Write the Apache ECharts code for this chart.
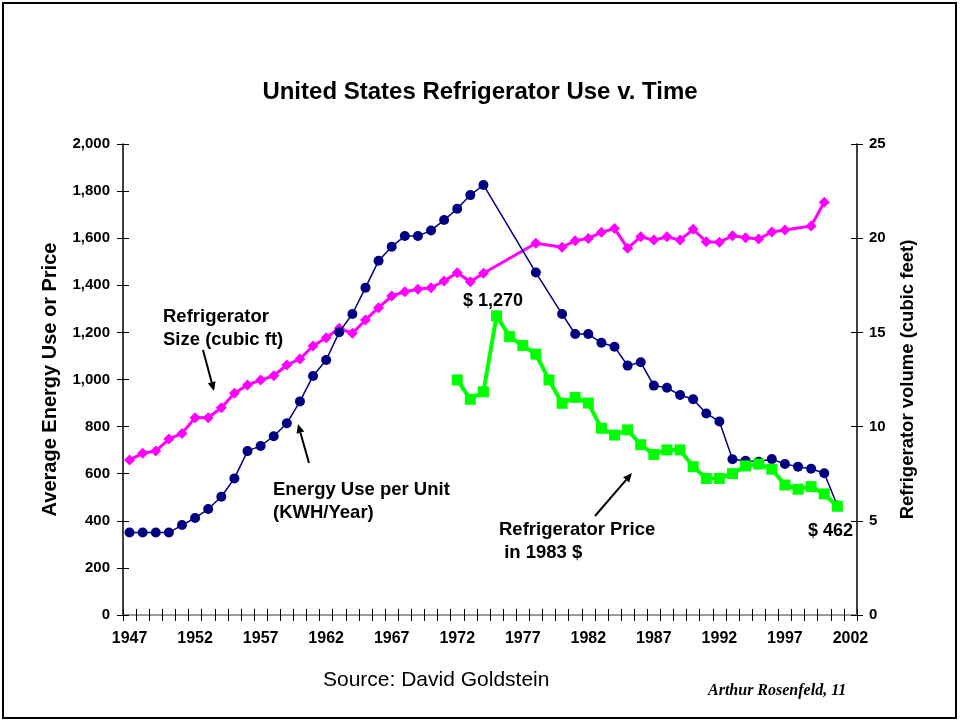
<!DOCTYPE html>
<html>
<head>
<meta charset="utf-8">
<title>United States Refrigerator Use v. Time</title>
<script src="https://cdn.jsdelivr.net/npm/echarts@6/dist/echarts.min.js"></script>
<style>
  html, body { margin: 0; padding: 0; background: #fff; }
  #main { width: 960px; height: 721px; }
</style>
</head>
<body>
<div id="main"></div>
<script>
// years on the category axis
const years = [
    "1947","1948","1949","1950","1951","1952","1953","1954","1955","1956",
    "1957","1958","1959","1960","1961","1962","1963","1964","1965","1966",
    "1967","1968","1969","1970","1971","1972","1973","1974","1975","1976",
    "1977","1978","1979","1980","1981","1982","1983","1984","1985","1986",
    "1987","1988","1989","1990","1991","1992","1993","1994","1995","1996",
    "1997","1998","1999","2000","2001","2002"
];

// Energy Use per Unit (KWH/Year), left axis
const energyUse = [
    350, 350, 350, 350, 382, 412, 450, 502, 580, 696,
    718, 759, 814, 907, 1015, 1083, 1201, 1278, 1390, 1504,
    1564, 1609, 1609, 1633, 1677, 1725, 1783, 1826, null, null,
    null, 1454, null, 1278, 1193, 1193, 1156, 1139, 1059, 1073,
    974, 965, 934, 916, 856, 822, 661, 655, 651, 662,
    641, 630, 621, 602, 465, null
];

// Refrigerator size (cubic ft), right axis
const fridgeSize = [
    8.23, 8.58, 8.70, 9.34, 9.64, 10.47, 10.47, 11.0, 11.77, 12.21,
    12.47, 12.70, 13.27, 13.59, 14.28, 14.72, 15.22, 14.95, 15.66, 16.31,
    16.93, 17.16, 17.29, 17.37, 17.73, 18.17, 17.69, 18.14, null, null,
    null, 19.73, null, 19.52, 19.87, 19.99, 20.31, 20.52, 19.46, 20.08,
    19.90, 20.08, 19.90, 20.47, 19.81, 19.78, 20.13, 20.03, 19.96, 20.33,
    20.44, null, 20.65, 21.91, null, null
];

// Refrigerator price in 1983 $, left axis
const fridgePrice = [
    null, null, null, null, null, null, null, null, null, null,
    null, null, null, null, null, null, null, null, null, null,
    null, null, null, null, null, 998, 916, 948, 1270, 1182,
    1144, 1108, 998, 899, 924, 900, 793, 764, 786, 723,
    682, 701, 701, 630, 580, 580, 600, 633, 641, 619,
    552, 534, 545, 514, 462, null
];

const FONT = "Liberation Sans, Arial, sans-serif";

// arrow = line + small filled head at the end point
function arrow(x1, y1, x2, y2) {
    const ang = Math.atan2(y2 - y1, x2 - x1);
    const len = 9, w = 4;
    const bx = x2 - len * Math.cos(ang), by = y2 - len * Math.sin(ang);
    const px = -Math.sin(ang) * w, py = Math.cos(ang) * w;
    return {
        type: "group",
        children: [
            { type: "line", shape: { x1: x1, y1: y1, x2: bx, y2: by }, style: { stroke: "#000", lineWidth: 2 } },
            { type: "polygon", shape: { points: [[x2, y2], [bx + px, by + py], [bx - px, by - py]] }, style: { fill: "#000" } }
        ]
    };
}

function label(txt, x, y, size) {
    return {
        type: "text", left: x, top: y,
        style: { text: txt, font: "bold " + size + "px " + FONT, fill: "#000", lineHeight: 23 }
    };
}

var myChart = echarts.init(document.getElementById("main"));

const tickLabel = { color: "#000", fontWeight: "bold", fontSize: 15, fontFamily: FONT };
const noLine = { show: true, lineStyle: { color: "rgba(0,0,0,0)" } };

var option = {
    animation: false,
    backgroundColor: "#fff",
    title: {
        text: "United States Refrigerator Use v. Time",
        left: "center",
        top: 75,
        textStyle: { color: "#000", fontWeight: "bold", fontSize: 24, fontFamily: FONT }
    },
    grid: { left: 123, right: 103, top: 144, bottom: 106 },
    xAxis: [
        {
            type: "category", data: years, position: "bottom", boundaryGap: true,
            axisLine: { show: true, lineStyle: { color: "#000", width: 1.5 } },
            axisTick: { show: true, interval: 0, length: 6, lineStyle: { color: "#000" } },
            axisLabel: Object.assign({}, tickLabel, { interval: 4, margin: 16, fontSize: 16 }),
            splitLine: { show: false }
        },
        {
            // inner half of the crossing ticks
            type: "category", data: years, position: "bottom", boundaryGap: true,
            axisLine: noLine,
            axisTick: { show: true, interval: 0, inside: true, length: 6, lineStyle: { color: "#000" } },
            axisLabel: { show: false }
        },
        {
            // grey frame line along the top
            type: "category", data: years, position: "top",
            axisLine: { show: true, lineStyle: { color: "#9a9a9a", width: 2 } },
            axisTick: { show: false },
            axisLabel: { show: false }
        }
    ],
    yAxis: [
        {
            type: "value", min: 0, max: 2000, interval: 200, position: "left",
            name: "Average Energy Use or Price", nameLocation: "middle", nameGap: 63,
            nameTextStyle: { color: "#000", fontWeight: "bold", fontSize: 20, fontFamily: FONT },
            axisLine: { show: true, lineStyle: { color: "#000", width: 1.5 } },
            axisTick: { show: true, length: 6, lineStyle: { color: "#000" } },
            axisLabel: Object.assign({ margin: 13, formatter: v => v.toLocaleString("en-US") }, tickLabel),
            splitLine: { show: false }
        },
        {
            type: "value", min: 0, max: 25, interval: 5, position: "right",
            name: "Refrigerator volume (cubic feet)", nameLocation: "middle", nameGap: 41,
            nameTextStyle: { color: "#000", fontWeight: "bold", fontSize: 18.5, fontFamily: FONT },
            axisLine: { show: true, lineStyle: { color: "#000", width: 1.5 } },
            axisTick: { show: true, length: 6, lineStyle: { color: "#000" } },
            axisLabel: Object.assign({ margin: 12 }, tickLabel),
            splitLine: { show: false }
        },
        {
            type: "value", min: 0, max: 2000, interval: 200, position: "left",
            axisLine: noLine,
            axisTick: { show: true, inside: true, length: 6, lineStyle: { color: "#000" } },
            axisLabel: { show: false }, splitLine: { show: false }
        },
        {
            type: "value", min: 0, max: 25, interval: 5, position: "right",
            axisLine: noLine,
            axisTick: { show: true, inside: true, length: 6, lineStyle: { color: "#000" } },
            axisLabel: { show: false }, splitLine: { show: false }
        }
    ],
    series: [
        {
            name: "Refrigerator Size", type: "line", yAxisIndex: 1, data: fridgeSize,
            connectNulls: true, showAllSymbol: true, symbol: "diamond", symbolSize: 11,
            lineStyle: { color: "#ff00ff", width: 3 },
            itemStyle: { color: "#ff00ff" }, z: 2
        },
        {
            name: "Energy Use per Unit", type: "line", yAxisIndex: 0, data: energyUse,
            connectNulls: true, showAllSymbol: true, symbol: "circle", symbolSize: 10,
            lineStyle: { color: "#000080", width: 1.5 },
            itemStyle: { color: "#000080" }, z: 3
        },
        {
            name: "Refrigerator Price", type: "line", yAxisIndex: 0, data: fridgePrice,
            connectNulls: true, showAllSymbol: true, symbol: "rect", symbolSize: 11,
            lineStyle: { color: "#00ff00", width: 4 },
            itemStyle: { color: "#00ff00" }, z: 4
        }
    ],
    graphic: [
        { type: "rect", shape: { x: 3, y: 3, width: 953, height: 715 }, style: { fill: null, stroke: "#000", lineWidth: 2 }, silent: true },
        label("Refrigerator\nSize (cubic ft)", 163, 305, 18.5),
        label("Energy Use per Unit\n(KWH/Year)", 273, 478, 18.5),
        label("$ 1,270", 463, 290, 18),
        label("Refrigerator Price\n in 1983 $", 499, 518, 18.5),
        label("$ 462", 808, 520, 18),
        arrow(203, 350, 214, 391),
        arrow(309, 463, 298, 424),
        arrow(595, 516, 632, 473),
        { type: "text", left: 323, top: 670, style: { text: "Source: David Goldstein", font: "21px " + FONT, fill: "#000" } },
        { type: "text", left: 708, top: 683, style: { text: "Arthur Rosenfeld, 11", font: "italic bold 16px Liberation Serif, Times New Roman, serif", fill: "#000" } }
    ]
};
myChart.setOption(option);
</script>
</body>
</html>
